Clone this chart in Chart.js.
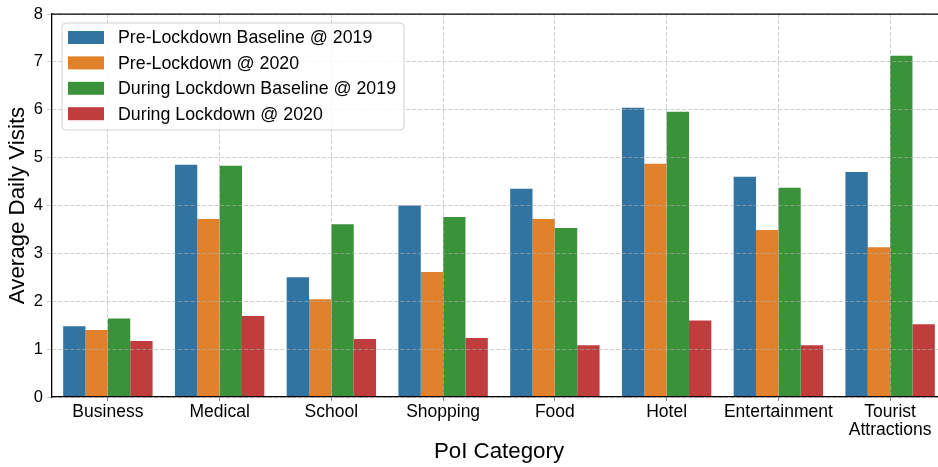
<!DOCTYPE html>
<html>
<head>
<meta charset="utf-8">
<script src="https://cdn.jsdelivr.net/npm/chart.js@4/dist/chart.umd.min.js"></script>
<style>
  html, body { margin: 0; padding: 0; background: #fff; overflow: hidden; }
  #wrap { width: 950px; height: 467px; }
</style>
</head>
<body>
<div id="wrap"><canvas id="chart" width="950" height="467"></canvas></div>
<script>
// PoI categories along the x axis
const categories = ['Business', 'Medical', 'School', 'Shopping', 'Food', 'Hotel', 'Entertainment', ['Tourist', 'Attractions']];

// Average daily visits per category for each period
const preLockdownBaseline2019 = [1.48, 4.85, 2.50, 4.00, 4.35, 6.04, 4.60, 4.70];
const preLockdown2020 = [1.40, 3.72, 2.04, 2.61, 3.72, 4.87, 3.49, 3.13];
const duringLockdownBaseline2019 = [1.64, 4.83, 3.61, 3.76, 3.53, 5.96, 4.37, 7.13];
const duringLockdown2020 = [1.17, 1.69, 1.21, 1.23, 1.08, 1.60, 1.08, 1.52];

const seriesLabels = ['Pre-Lockdown Baseline @ 2019', 'Pre-Lockdown @ 2020', 'During Lockdown Baseline @ 2019', 'During Lockdown @ 2020'];
const seriesColors = ['#3274a1', '#e1812c', '#3a923a', '#c03d3e'];
const yTicks = [0, 1, 2, 3, 4, 5, 6, 7, 8];

const FONT = "'Liberation Sans', Arial, sans-serif";
const gridColor = 'rgba(176,176,176,0.62)';

// Legend box drawn inside the plot area, top-left
const insideLegend = {
  id: 'insideLegend',
  afterDraw(chart) {
    const { ctx, chartArea } = chart;
    const x = chartArea.left + 10, y = chartArea.top + 9, w = 342, h = 107;
    ctx.save();
    ctx.beginPath();
    ctx.roundRect(x, y, w, h, 4);
    ctx.fillStyle = 'rgba(255,255,255,0.85)';
    ctx.fill();
    ctx.lineWidth = 1;
    ctx.strokeStyle = 'rgba(204,204,204,0.9)';
    ctx.stroke();
    ctx.font = '17.8px ' + FONT;
    ctx.textBaseline = 'middle';
    ctx.textAlign = 'left';
    chart.data.datasets.forEach((ds, i) => {
      const cy = y + 14.5 + i * 25.4;
      ctx.fillStyle = ds.backgroundColor;
      ctx.fillRect(x + 6, cy - 6.5, 36, 13);
      ctx.fillStyle = '#000';
      ctx.fillText(ds.label, x + 56, cy + 1);
    });
    ctx.restore();
  }
};

// Solid top spine
const topSpine = {
  id: 'topSpine',
  afterDraw(chart) {
    const { ctx, chartArea } = chart;
    ctx.save();
    ctx.strokeStyle = '#000';
    ctx.lineWidth = 1.25;
    ctx.beginPath();
    ctx.moveTo(chartArea.left, chartArea.top);
    ctx.lineTo(chartArea.right + 5, chartArea.top);
    ctx.stroke();
    ctx.restore();
  }
};

const datasetValues = [preLockdownBaseline2019, preLockdown2020, duringLockdownBaseline2019, duringLockdown2020];

new Chart(document.getElementById('chart'), {
  type: 'bar',
  data: {
    labels: categories,
    datasets: datasetValues.map((vals, i) => ({
      label: seriesLabels[i],
      data: vals,
      backgroundColor: seriesColors[i],
      borderWidth: 0,
      categoryPercentage: 0.8,
      barPercentage: 1.0
    }))
  },
  options: {
    responsive: false,
    animation: false,
    devicePixelRatio: 1,
    layout: { padding: { top: 14, right: 4, left: 0, bottom: 0 } },
    plugins: {
      legend: { display: false },
      tooltip: { enabled: false }
    },
    scales: {
      x: {
        offset: true,
        grid: {
          offset: false,
          color: gridColor,
          lineWidth: 1,
          z: 1,
          tickLength: 4,
          tickColor: 'rgba(120,120,120,0.9)',
          tickBorderDash: []
        },
        border: { display: true, color: '#000', width: 1.3, dash: [4, 2], z: 2 },
        ticks: {
          color: '#000',
          font: { family: FONT, size: 17.5, lineHeight: 1.05 },
          padding: 2,
          maxRotation: 0,
          autoSkip: false
        },
        title: {
          display: true,
          text: 'PoI Category',
          color: '#000',
          font: { family: FONT, size: 22.3, lineHeight: 1.2 },
          padding: { top: 0, bottom: 2 }
        },
        afterFit(scale) { scale.height = 70; }
      },
      y: {
        min: 0,
        max: 8,
        afterBuildTicks(scale) { scale.ticks = yTicks.map(v => ({ value: v })); },
        grid: {
          color: gridColor,
          lineWidth: 1,
          z: 1,
          tickLength: 5,
          tickColor: gridColor,
          tickBorderDash: []
        },
        border: { display: true, color: '#000', width: 1.3, dash: [4, 2], z: 2 },
        ticks: {
          color: '#000',
          font: { family: FONT, size: 16.5 },
          padding: 4
        },
        title: {
          display: true,
          text: 'Average Daily Visits',
          color: '#000',
          font: { family: FONT, size: 22.3, lineHeight: 1.2 },
          padding: { top: 4, bottom: 0 }
        },
        afterFit(scale) { scale.width = 52; }
      }
    }
  },
  plugins: [insideLegend, topSpine]
});
</script>
</body>
</html>
